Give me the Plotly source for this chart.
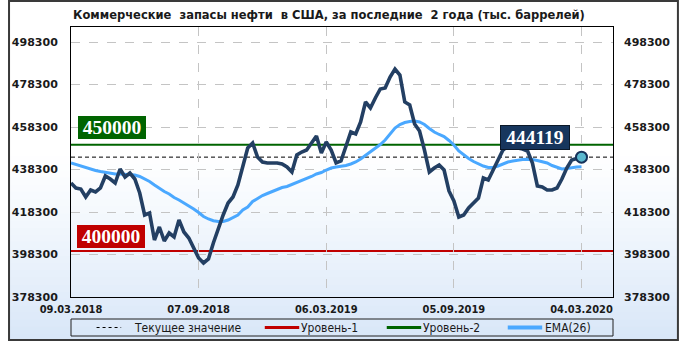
import plotly.graph_objects as go

# ---------------- data (thousand barrels, weekly) ----------------
stocks = [431950, 429600, 429130, 425360, 428650, 427710, 429600, 435240, 433830, 431950,
          438540, 434770, 436650, 433830, 427240, 416890, 417830, 405120, 411240, 404650,
          408420, 406540, 414540, 408890, 406070, 401360, 396650, 394300, 396180, 403710,
          410770, 416890, 422540, 425360, 431010, 440420, 448420, 450770, 444180, 441830,
          441360, 441360, 441360, 440890, 439480, 437130, 445130, 446540, 447480, 450770,
          454070, 446070, 451240, 447480, 441360, 442300, 448890, 455950, 455010, 460660,
          470070, 467240, 471950, 476190, 476660, 481830, 485600, 482770, 470070, 468660,
          459710, 456420, 447480, 437130, 439010, 440420, 438070, 428180, 423480, 415950,
          416890, 420180, 422540, 424890, 434300, 433360, 438070, 442770, 447480, 449360,
          448890, 448420, 447950, 447010, 441360, 430540, 430070, 428650, 428650, 429600,
          433830, 439010, 442770, 443480, 444119]

ema26 = [441360, 440660, 439950, 439010, 438300, 437830, 437360, 436890, 436510, 436180,
         436180, 436090, 435950, 435710, 435010, 433830, 432650, 431010, 429360, 427950,
         426770, 425130, 423950, 422540, 421360, 419710, 418070, 416180, 415010, 414210,
         413830, 413830, 414540, 415710, 416890, 419240, 420650, 423240, 424650, 426070,
         427010, 427950, 428890, 429830, 430300, 431240, 431950, 432890, 433830, 435010,
         436180, 436890, 438070, 439010, 439480, 439710, 440180, 440890, 441830, 443240,
         444890, 446540, 448180, 450070, 452180, 454770, 457830, 459480, 460420, 460890,
         461130, 460660, 459480, 457600, 455950, 454770, 453830, 451950, 449830, 447010,
         445130, 443480, 442070, 440890, 439950, 439240, 439240, 439950, 440890, 441830,
         442300, 442770, 443010, 443100, 443010, 442540, 442070, 441360, 440180, 439240,
         438540, 438770, 439240, 439480, 439620]

weeks = list(range(len(stocks)))
date_labels = ["09.03.2018", "07.09.2018", "06.03.2019", "05.09.2019", "04.03.2020"]
date_ticks = [0, 26, 52, 78, 104]
y_ticks = [378300, 398300, 418300, 438300, 458300, 478300, 498300]
level1 = 400000
level2 = 450000
current = stocks[-1]

title = "Коммерческие  запасы нефти  в США, за последние  2 года (тыс. баррелей)"
legend_names = ["Текущее значение", "Уровень-1", "Уровень-2", "EMA(26)"]

# ---------------- geometry helpers ----------------
FW, FH = 682, 341
PL, PR, PT, PB = 64, 615, 27, 297
PW, PH = PR - PL, PB - PT


def px(x):
    return (x - PL) / PW


def py(y):
    return (PB - y) / PH


NAVY = "#233f63"
BLUE = "#4aa8ff"
RED = "#c00000"
GREEN = "#006400"
TXT = "#1a1a1a"

fig = go.Figure()

fig.add_trace(go.Scatter(x=weeks, y=ema26, mode="lines", line=dict(color=BLUE, width=3),
                         showlegend=False, hoverinfo="skip"))
fig.add_trace(go.Scatter(x=weeks, y=stocks, mode="lines", line=dict(color=NAVY, width=3.6),
                         showlegend=False, hoverinfo="skip"))
fig.add_trace(go.Scatter(x=[weeks[-1]], y=[current], mode="markers",
                         marker=dict(size=11, color="#5ab8cf", line=dict(color="#16325a", width=2)),
                         showlegend=False, hoverinfo="skip"))
# invisible trace for the right axis
fig.add_trace(go.Scatter(x=[weeks[0]], y=[stocks[0]], mode="lines", yaxis="y2", opacity=0,
                         showlegend=False, hoverinfo="skip"))

shapes = []
# background gradient (white -> light blue)
n = 48
for k in range(n):
    y0 = FH * k / n
    y1 = FH * (k + 1) / n
    t = (y0 + y1) / 2 / FH
    f = 0 if t < 0.45 else ((t - 0.45) / 0.55) ** 1.1
    r = round(255 - f * (255 - 216))
    g = round(255 - f * (255 - 231))
    b = round(255 - f * (255 - 248))
    shapes.append(dict(type="rect", xref="paper", yref="paper", x0=px(0), x1=px(FW),
                       y0=py(y1 + 0.5), y1=py(y0), fillcolor=f"rgb({r},{g},{b})",
                       line=dict(width=0), layer="below"))
# outer border
shapes.append(dict(type="rect", xref="paper", yref="paper", x0=px(1), x1=px(FW - 1),
                   y0=py(FH - 1), y1=py(1), line=dict(color="#3a3a3a", width=2), layer="above"))
# level lines
shapes.append(dict(type="line", xref="paper", yref="y", x0=0, x1=1, y0=level1, y1=level1,
                   line=dict(color=RED, width=2), layer="below"))
shapes.append(dict(type="line", xref="paper", yref="y", x0=0, x1=1, y0=level2, y1=level2,
                   line=dict(color=GREEN, width=2), layer="below"))
shapes.append(dict(type="line", xref="paper", yref="y", x0=0, x1=1, y0=current, y1=current,
                   line=dict(color="black", width=1, dash="4px,3px"), layer="below"))

# manual legend
LY = 327.5
shapes.append(dict(type="rect", xref="paper", yref="paper", x0=px(64), x1=px(615),
                   y0=py(336), y1=py(319), line=dict(color="#202020", width=1)))
leg_items = [
    (90, 115, "black", 1, "3px,3px", 126),
    (261, 296, RED, 3, "solid", 296),
    (385, 420, GREEN, 3, "solid", 420),
    (508, 543, BLUE, 4, "solid", 544),
]
annotations = []
for (x0, x1, col, w, d, tx), name in zip(leg_items, legend_names):
    shapes.append(dict(type="line", xref="paper", yref="paper", x0=px(x0), x1=px(x1),
                       y0=py(LY), y1=py(LY), line=dict(color=col, width=w, dash=d)))
    annotations.append(dict(xref="paper", yref="paper", x=px(tx), y=py(LY), text=name,
                            showarrow=False, xanchor="left", yanchor="middle",
                            font=dict(family="DejaVu Sans Condensed", size=12, color=TXT)))

# title
annotations.append(dict(xref="paper", yref="paper", x=px(326), y=py(15),
                        text=title.replace("  ", "\u00a0\u00a0"), showarrow=False,
                        xanchor="center", yanchor="middle",
                        font=dict(family="DejaVu Sans Condensed", size=12.8, color=TXT, weight="bold")))

# value labels
def value_label(text, cx, cy, bg, border=None):
    return dict(xref="paper", yref="paper", x=px(cx), y=py(cy), text=text, showarrow=False,
                xanchor="center", yanchor="middle", bgcolor=bg, width=66, height=21,
                borderpad=1, bordercolor=border or bg, borderwidth=1 if border else 0,
                font=dict(family="Liberation Serif", size=19.5, color="white", weight="bold"))


annotations.append(value_label(str(level2), 105.5, 127, GREEN))
annotations.append(value_label(str(level1), 105, 236, RED))
annotations.append(value_label(str(current), 536, 137, "#17365d", border="#0b1828"))

upp = 104 / (583 - PL)  # data units per pixel
x_range = [0, (PR - PL) * upp]
y_top = 498300 + (42 - PT) * 20000 / 42.5
y_range = [378300, y_top]

axis_font = dict(family="DejaVu Sans", size=11, color=TXT, weight="bold")
fig.update_layout(
    width=FW, height=FH,
    margin=dict(l=PL, r=FW - PR, t=PT, b=FH - PB),
    paper_bgcolor="white", plot_bgcolor="rgba(0,0,0,0)",
    showlegend=False,
    shapes=shapes, annotations=annotations,
    xaxis=dict(range=x_range, tickvals=date_ticks, ticktext=date_labels, showgrid=True,
               gridcolor="#c4c4c4", griddash="dash", gridwidth=1, zeroline=False,
               showline=True, linecolor="black", linewidth=1, mirror=True, ticks="",
               ticklabelstandoff=2,
               tickfont=dict(family="DejaVu Sans Condensed", size=11, color=TXT, weight="bold")),
    yaxis=dict(range=y_range, tickvals=y_ticks, ticktext=[str(v) for v in y_ticks],
               showgrid=True, gridcolor="#c4c4c4", griddash="dash", gridwidth=1,
               zeroline=False, showline=True, linecolor="black", linewidth=1, mirror=True,
               ticks="", ticklabelstandoff=10, tickfont=axis_font),
    yaxis2=dict(range=y_range, tickvals=y_ticks, ticktext=[str(v) for v in y_ticks],
                overlaying="y", side="right", showgrid=False, zeroline=False,
                ticks="", ticklabelstandoff=10, tickfont=axis_font),
)

fig.write_html("out.html")
